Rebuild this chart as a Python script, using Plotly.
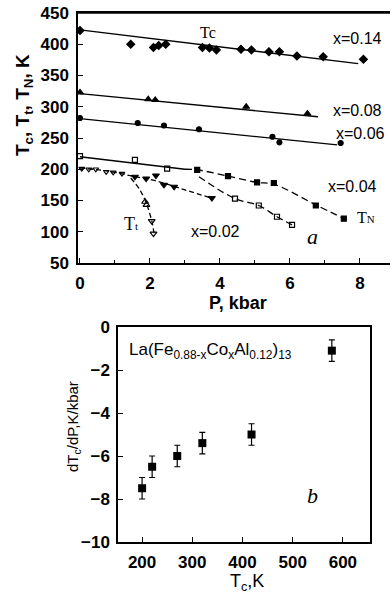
import plotly.graph_objects as go

# ---------------- Panel a data ----------------
# x = 0.14 (Tc)
P_014 = [0, 1.45, 2.1, 2.25, 2.45, 3.5, 3.7, 3.9, 4.6, 4.9, 5.4, 5.7, 6.2, 6.95, 8.1]
T_014 = [422, 400, 395, 398, 400, 395, 394, 391, 392, 391, 388, 388, 381, 380, 376]
fitP_014 = [0, 7.95]
fitT_014 = [423, 369]
# x = 0.08
P_008 = [0, 1.95, 2.15, 4.75, 6.5]
T_008 = [323, 312, 311, 300, 289]
fitP_008 = [0, 6.8]
fitT_008 = [321, 284]
# x = 0.06
P_006 = [0, 1.65, 2.4, 3.4, 5.5, 5.7, 7.45]
T_006 = [282, 274, 270, 264, 252, 243, 242]
fitP_006 = [0, 7.35]
fitT_006 = [281, 239]
# x = 0.04
solP_004 = [0, 3.0]
solT_004 = [220, 200]
openP_004 = [0, 1.57, 2.49]
openT_004 = [221, 215, 201]
tnP_004 = [3.35, 4.23, 5.06, 5.54, 6.74, 7.54]
tnT_004 = [199, 189, 179, 178, 142, 121]
tnLineP_004 = [3.0, 3.35, 4.23, 5.06, 5.54, 6.74, 7.54]
tnLineT_004 = [200, 199, 189, 179, 176, 143, 121]
ttLineP_004 = [3.4, 4.43, 5.11, 5.63, 6.06]
ttLineT_004 = [188, 153, 142, 124, 111]
ttP_004 = [4.43, 5.11, 5.63, 6.06]
ttT_004 = [153, 142, 124, 111]
# x = 0.02
openP_002 = [0.05, 0.25, 0.45, 0.75, 0.95, 1.2]
openT_002 = [201, 200, 200, 196, 195, 193]
fillP_002 = [1.57, 1.89, 2.17, 2.4, 2.69, 3.77]
fillT_002 = [188, 185, 190, 175, 172, 154]
lineP_002 = [0, 0.8, 1.5, 2.2, 3.0, 3.8]
lineT_002 = [202, 197, 189, 181, 167, 153]
# Tt branch of x = 0.02
ttLineP_002 = [1.45, 1.7, 1.88, 2.0, 2.08, 2.12]
ttLineT_002 = [186, 168, 148, 128, 110, 95]
ttUpP_002 = [1.86, 1.9]
ttUpT_002 = [148, 143]
ttDnP_002 = [2.05, 2.1]
ttDnT_002 = [117, 97]

xticks_a = [0, 2, 4, 6, 8]
yticks_a = [50, 100, 150, 200, 250, 300, 350, 400, 450]

# ---------------- Panel b data ----------------
Tc_b = [200, 220, 270, 320, 418, 578]
dTdP_b = [-7.5, -6.5, -6.0, -5.4, -5.0, -1.1]
err_b = [0.5, 0.5, 0.5, 0.5, 0.5, 0.5]
xticks_b = [200, 300, 400, 500, 600]
yticks_b = [0, -2, -4, -6, -8, -10]

BLK = "black"
SANS = "Liberation Sans"
SERIF = "Liberation Serif"

fig = go.Figure()

def line(xs, ys, dash="solid", width=1.3, shape="linear", ax="a"):
    fig.add_trace(go.Scatter(x=xs, y=ys, mode="lines",
                             line=dict(color=BLK, width=width, dash=dash, shape=shape),
                             xaxis="x" if ax == "a" else "x2",
                             yaxis="y" if ax == "a" else "y2",
                             showlegend=False, hoverinfo="skip"))

def marks(xs, ys, symbol, size, ax="a"):
    fig.add_trace(go.Scatter(x=xs, y=ys, mode="markers",
                             marker=dict(symbol=symbol, size=size, color=BLK,
                                         line=dict(color=BLK, width=1.2)),
                             xaxis="x" if ax == "a" else "x2",
                             yaxis="y" if ax == "a" else "y2",
                             showlegend=False, hoverinfo="skip"))

# x=0.14
line(fitP_014, fitT_014)
marks(P_014, T_014, "diamond", 6)
# x=0.08
line(fitP_008, fitT_008)
marks(P_008, T_008, "triangle-up", 6)
# x=0.06
line(fitP_006, fitT_006)
marks(P_006, T_006, "circle", 5)
# x=0.04
line(solP_004, solT_004)
marks(openP_004, openT_004, "square-open", 5)
line(tnLineP_004, tnLineT_004, dash="7px,4px", shape="spline")
marks(tnP_004, tnT_004, "square", 5)
line(ttLineP_004, ttLineT_004, dash="7px,4px", shape="spline")
marks(ttP_004, ttT_004, "square-open", 5)
# x=0.02
line(lineP_002, lineT_002, dash="5px,3px", shape="spline")
marks(openP_002, openT_002, "triangle-down-open", 5)
marks(fillP_002, fillT_002, "triangle-down", 6)
line(ttLineP_002, ttLineT_002, dash="5px,3px", shape="spline")
marks(ttUpP_002, ttUpT_002, "triangle-up-open", 6)
marks(ttDnP_002, ttDnT_002, "triangle-down-open", 6)

# Panel b
fig.add_trace(go.Scatter(x=Tc_b, y=dTdP_b, mode="markers",
                         marker=dict(symbol="square", size=8, color=BLK),
                         error_y=dict(type="data", array=err_b, visible=True,
                                      color=BLK, thickness=1.2, width=3),
                         xaxis="x2", yaxis="y2", showlegend=False, hoverinfo="skip"))

W, H = 391, 600
def fx(px):
    return px / W
def fy(py):
    return 1 - py / H

axis_common = dict(showline=True, linecolor=BLK, linewidth=1.5, ticks="inside",
                   ticklen=5, tickcolor=BLK, tickwidth=1.3, showgrid=False,
                   zeroline=False, automargin=False, ticklabeloverflow="allow",
                   tickfont=dict(family=SANS, size=17, color=BLK, weight="bold"))

fig.update_layout(
    width=W, height=H, margin=dict(l=0, r=0, t=0, b=0, autoexpand=False),
    paper_bgcolor="white", plot_bgcolor="white",
    xaxis=dict(domain=[fx(78), fx(390)], range=[-0.057, 8.86], anchor="y",
               tickvals=xticks_a, mirror=True, ticklabelstandoff=4,
               minor=dict(ticks="inside", ticklen=3, dtick=1, tickcolor=BLK),
               **axis_common),
    yaxis=dict(domain=[fy(263), fy(13)], range=[50, 450], anchor="x",
               tickvals=yticks_a, ticklabelstandoff=4, **axis_common),
    xaxis2=dict(domain=[fx(118), fx(370)], range=[152, 654], anchor="y2",
                tickvals=xticks_b, mirror=True, ticklabelstandoff=4, **axis_common),
    yaxis2=dict(domain=[fy(542), fy(327)], range=[-10, 0], anchor="x2",
                tickvals=yticks_b, mirror=True, ticklabelstandoff=3, **axis_common),
)

# top frame line of panel a (no right frame line in the original)
fig.add_shape(type="line", xref="x domain", yref="y domain", x0=0, x1=1, y0=1, y1=1,
              line=dict(color=BLK, width=1.5))

def ann(text, x, y, size, family=SANS, xanchor="center", textangle=0, bold=False, italic=False):
    if bold:
        text = "<b>" + text + "</b>"
    if italic:
        text = "<i>" + text + "</i>"
    fig.add_annotation(text=text, x=fx(x), y=fy(y), xref="paper", yref="paper",
                       showarrow=False, xanchor=xanchor, yanchor="middle",
                       textangle=textangle,
                       font=dict(family=family, size=size, color=BLK))

# panel a titles and labels
ann("T<sub>c</sub>, T<sub>t</sub>, T<sub>N</sub>, K", 24, 105, 19, textangle=-90, bold=True)
ann("P, kbar", 238, 303, 18, bold=True)
ann("Tc", 208, 32, 16, family=SERIF)
ann("x=0.14", 357, 38, 16)
ann("x=0.08", 357, 110, 16)
ann("x=0.06", 360, 133, 16)
ann("x=0.04", 352, 186, 16)
ann("x=0.02", 215, 231, 16)
ann("T<span style='font-size:11px'>N</span>", 366, 218, 16, family=SERIF)
ann("T<span style='font-size:11px'>t</span>", 131, 224, 18, family=SERIF)
ann("a", 312, 236, 22, family=SERIF, italic=True)

# panel b titles and labels
ann("dT<sub>c</sub>/dP,K/kbar", 73, 427, 15, textangle=-90)
ann("T<sub>c</sub>,K", 247, 582, 18)
ann("La(Fe<sub>0.88-x</sub>Co<sub>x</sub>Al<sub>0.12</sub>)<sub>13</sub>", 127, 351, 17, xanchor="left")
ann("b", 312, 495, 22, family=SERIF, italic=True)

# remove the default page margin so the 391x600 figure fills the window exactly
fig.write_html("out.html",
               config={"displayModeBar": False},
               post_script="document.body.style.margin='0';document.body.style.overflow='hidden';")
